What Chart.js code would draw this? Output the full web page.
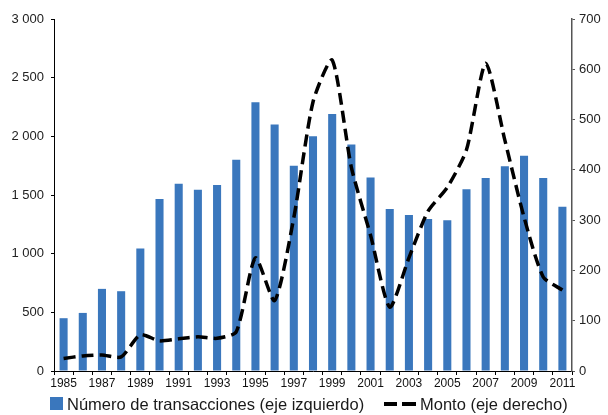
<!DOCTYPE html>
<html>
<head>
<meta charset="utf-8">
<script src="https://cdn.jsdelivr.net/npm/chart.js@4"></script>
<style>
  html, body { margin: 0; padding: 0; background: #fff; }
  #wrap { position: relative; width: 608px; height: 415px; }
  #c { position: absolute; left: 0; top: 0; }
  .lg { position: absolute; font-family: 'Liberation Sans', Arial, sans-serif; font-size: 16.5px; color: #1a1a1a; line-height: 19px; white-space: nowrap; }
  .sq { position: absolute; background: #3A77BD; }
  .ds { position: absolute; background: #000; }
</style>
</head>
<body>
<div id="wrap">
  <canvas id="c" width="608" height="415"></canvas>
  <div class="sq" style="left:50px; top:397px; width:13px; height:13px;"></div>
  <div class="lg" style="left:67px; top:395px;">Número de transacciones (eje izquierdo)</div>
  <div class="ds" style="left:384px; top:402px; width:13px; height:4px;"></div>
  <div class="ds" style="left:402px; top:402px; width:14px; height:4px;"></div>
  <div class="lg" style="left:420px; top:395px;">Monto (eje derecho)</div>
</div>
<script>
const years = ['1985','1986','1987','1988','1989','1990','1991','1992','1993','1994','1995','1996','1997','1998','1999','2000','2001','2002','2003','2004','2005','2006','2007','2008','2009','2010','2011'];
const transacciones = [450,495,700,680,1045,1465,1595,1545,1585,1800,2290,2100,1750,2000,2190,1930,1650,1380,1330,1295,1285,1550,1645,1745,1835,1645,1400];
const monto = [25,30,32,28,72,60,64,68,65,78,225,140,305,535,618,405,270,127,225,318,365,440,612,459,306,187,161];
const leftTicks = [0,500,1000,1500,2000,2500,3000];
const rightTicks = [0,100,200,300,400,500,600,700];

const FONT = "'Liberation Sans', Arial, sans-serif";
const fmt = v => String(v).replace(/\B(?=(\d{3})+(?!\d))/g, ' ');

new Chart(document.getElementById('c'), {
  data: {
    labels: years,
    datasets: [
      {
        type: 'line',
        label: 'Monto (eje derecho)',
        data: monto,
        yAxisID: 'y1',
        borderColor: '#000',
        borderWidth: 3.5,
        borderDash: [12, 6],
        borderCapStyle: 'butt',
        pointRadius: 0,
        tension: 0.22,
        fill: false,
        order: 0
      },
      {
        type: 'bar',
        label: 'Número de transacciones (eje izquierdo)',
        data: transacciones,
        yAxisID: 'y',
        backgroundColor: '#3A77BD',
        barPercentage: 0.42,
        categoryPercentage: 1,
        order: 1
      }
    ]
  },
  options: {
    responsive: false,
    devicePixelRatio: 1,
    animation: false,
    layout: { padding: { top: 19, left: 0, right: 0, bottom: 0 } },
    plugins: { legend: { display: false }, tooltip: { enabled: false } },
    scales: {
      x: {
        type: 'category',
        offset: true,
        grid: { display: true, drawOnChartArea: false, offset: true, tickLength: 4, color: '#000', lineWidth: 1 },
        border: { display: true, color: '#000', width: 1 },
        ticks: {
          autoSkip: false, maxRotation: 0, minRotation: 0, padding: 1,
          color: '#111', font: { family: FONT, size: 12 },
          callback: (v, i) => (i % 2 === 0 ? years[i] : '')
        },
        afterFit: s => { s.height = 44; }
      },
      y: {
        position: 'left',
        min: 0, max: 3000,
        afterBuildTicks: s => { s.ticks = leftTicks.map(v => ({ value: v })); },
        grid: { display: true, drawOnChartArea: false, tickLength: 3, color: '#000' },
        border: { display: true, color: '#000', width: 1 },
        ticks: { padding: 7, color: '#222', font: { family: FONT, size: 13 }, callback: v => fmt(v) },
        afterFit: s => { s.width = 54; }
      },
      y1: {
        position: 'right',
        min: 0, max: 700,
        afterBuildTicks: s => { s.ticks = rightTicks.map(v => ({ value: v })); },
        grid: { display: true, drawOnChartArea: false, tickLength: 3, color: '#555' },
        border: { display: true, color: '#555', width: 1.5 },
        ticks: { padding: 4, color: '#222', font: { family: FONT, size: 13 }, callback: v => fmt(v) },
        afterFit: s => { s.width = 36; }
      }
    }
  }
});
</script>
</body>
</html>
